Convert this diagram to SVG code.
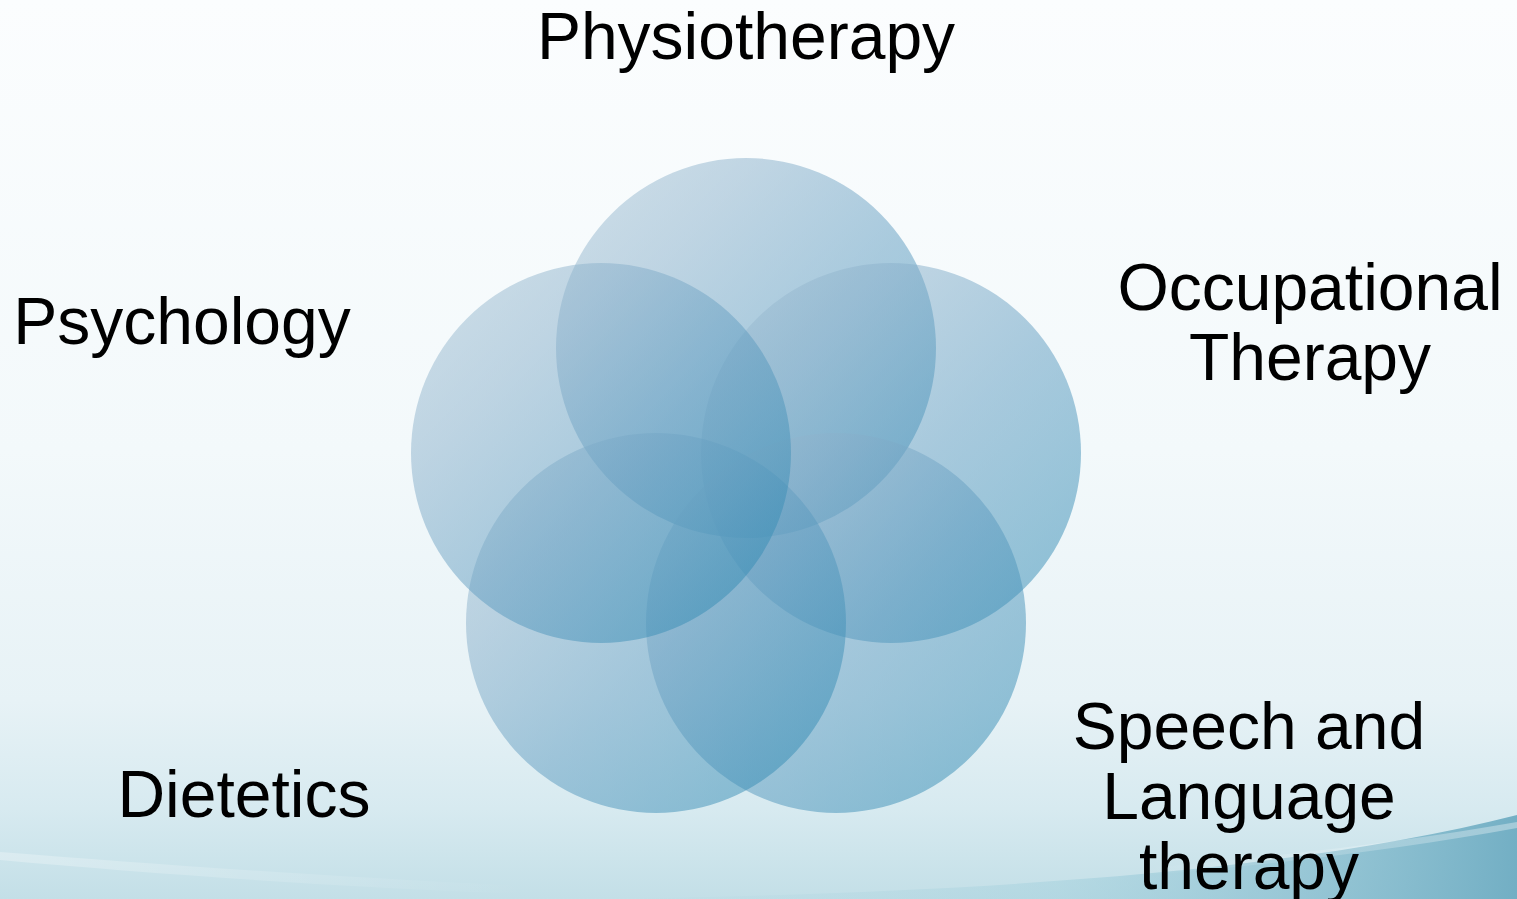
<svg xmlns="http://www.w3.org/2000/svg" width="1517" height="899" viewBox="0 0 1517 899">
  <defs>
    <linearGradient id="bg" x1="0" y1="0" x2="0" y2="1">
      <stop offset="0" stop-color="#fbfdfe"/>
      <stop offset="0.5" stop-color="#f3f9fb"/>
      <stop offset="0.78" stop-color="#e7f2f6"/>
      <stop offset="0.9" stop-color="#d7eaf0"/>
      <stop offset="1" stop-color="#c3dfe7"/>
    </linearGradient>
    <linearGradient id="wave" x1="0" y1="0" x2="1" y2="0">
      <stop offset="0" stop-color="#a8d2de" stop-opacity="0"/>
      <stop offset="0.5" stop-color="#9accda" stop-opacity="0.4"/>
      <stop offset="1" stop-color="#6eacc2" stop-opacity="0.95"/>
    </linearGradient>
    <linearGradient id="streak" x1="0" y1="0" x2="1" y2="0">
      <stop offset="0" stop-color="#ffffff" stop-opacity="0.28"/>
      <stop offset="0.35" stop-color="#ffffff" stop-opacity="0"/>
      <stop offset="0.75" stop-color="#ffffff" stop-opacity="0"/>
      <stop offset="1" stop-color="#ffffff" stop-opacity="0.35"/>
    </linearGradient>
    <!-- shared disc shading: pale grey-blue at upper left, teal at lower right -->
    <linearGradient id="petal" x1="0" y1="0" x2="1" y2="1">
      <stop offset="0" stop-color="#a8c3d4"/>
      <stop offset="0.27" stop-color="#88afca"/>
      <stop offset="0.55" stop-color="#5c9abf"/>
      <stop offset="0.85" stop-color="#358cb4"/>
      <stop offset="1" stop-color="#2a86b0"/>
    </linearGradient>
    <style>
      .label { font-family: "Liberation Sans", Arial, sans-serif; font-size: 66px; fill: #000; text-anchor: middle; }
      .petal { fill: url(#petal); fill-opacity: 0.5; }
    </style>
  </defs>

  <!-- backdrop -->
  <rect x="0" y="0" width="1517" height="899" fill="url(#bg)"/>
  <path d="M600 899 C1000 893 1300 870 1517 815 L1517 899 Z" fill="url(#wave)"/>
  <path d="M0 852 C200 868 450 885 700 893 C1000 885 1300 860 1517 822 L1517 828 C1300 868 1000 892 700 899 C450 895 200 878 0 860 Z" fill="url(#streak)"/>

  <!-- overlapping discs -->
  <g id="disc-physiotherapy"><circle class="petal" cx="746" cy="348" r="190"/></g>
  <g id="disc-occupational"><circle class="petal" cx="891" cy="453" r="190"/></g>
  <g id="disc-speech"><circle class="petal" cx="836" cy="623" r="190"/></g>
  <g id="disc-dietetics"><circle class="petal" cx="656" cy="623" r="190"/></g>
  <g id="disc-psychology"><circle class="petal" cx="601" cy="453" r="190"/></g>

  <!-- labels -->
  <g id="label-physiotherapy"><text class="label" x="746" y="59">Physiotherapy</text></g>
  <g id="label-psychology"><text class="label" x="182" y="344">Psychology</text></g>
  <g id="label-occupational">
    <text class="label" x="1310" y="310">Occupational</text>
    <text class="label" x="1310" y="380">Therapy</text>
  </g>
  <g id="label-speech">
    <text class="label" x="1249" y="749">Speech and</text>
    <text class="label" x="1249" y="819">Language</text>
    <text class="label" x="1249" y="889">therapy</text>
  </g>
  <g id="label-dietetics"><text class="label" x="244" y="817">Dietetics</text></g>
</svg>
